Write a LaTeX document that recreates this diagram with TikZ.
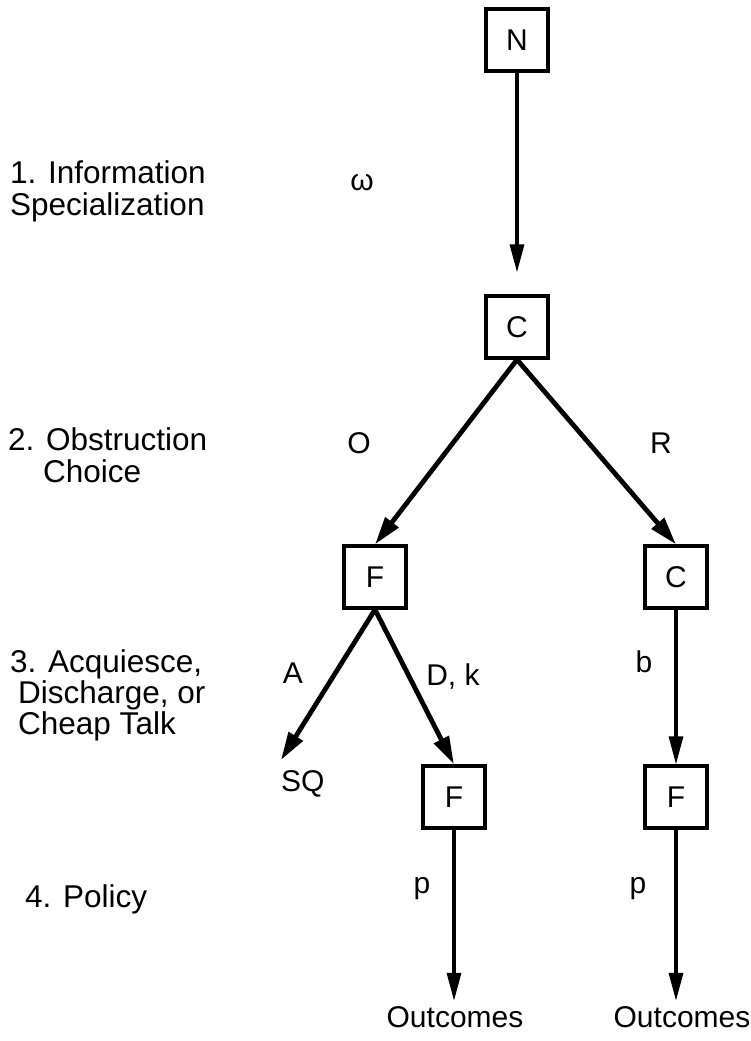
\documentclass[tikz,border=0pt]{standalone}
\usepackage{fontspec}
\setmainfont{Liberation Sans}
\usetikzlibrary{arrows.meta}
\begin{document}
\begin{tikzpicture}[x=1pt,y=-1pt,
  every node/.style={font=\fontsize{30}{32}\selectfont, inner sep=0pt},
  playerbox/.style={draw, line width=3.2pt, minimum width=62pt, minimum height=62pt},
  lbl/.style={anchor=base},
  stage/.style={anchor=base west, font=\fontsize{31.5}{33}\selectfont},
  arr/.style={line width=3.2pt, -{Triangle[length=28pt,width=14pt]}},
  darr/.style={line width=4.8pt, -{Triangle[length=28pt,width=16pt]}}
]
\useasboundingbox (0,0) rectangle (750,1041);
% stage labels
\node[stage] (s1a) at (10,183) {1. Information};
\node[stage] (s1b) at (10,215) {Specialization};
\node[stage] (s2a) at (8,450) {2. Obstruction};
\node[stage] (s2b) at (43,482) {Choice};
\node[stage] (s3a) at (10,672) {3. Acquiesce,};
\node[stage] (s3b) at (18,703) {Discharge, or};
\node[stage] (s3c) at (18,734) {Cheap Talk};
\node[stage] (s4) at (25,907) {4. Policy};
% player boxes
\node[playerbox] (N) at (517,40) {N};
\node[playerbox] (C) at (517,327) {C};
\node[playerbox] (F1) at (375,577) {F};
\node[playerbox] (C2) at (676,577) {C};
\node[playerbox] (F2) at (454,797) {F};
\node[playerbox] (F3) at (676,797) {F};
% terminal texts
\node[anchor=base west] (SQ) at (281,791) {SQ};
\node[lbl] (out1) at (455,1027) {Outcomes};
\node[lbl] (out2) at (682,1027) {Outcomes};
\coordinate (sqtip) at (281,760);
% connectors
\draw[arr] (N.south) -- ([yshift=22pt]C.north);
\draw[darr] (C.south) -- (F1.north);
\draw[darr] (C.south) -- (C2.north);
\draw[darr] (F1.south) -- (sqtip);
\draw[darr] (F1.south) -- (F2.north);
\draw[arr] (C2.south) -- (F3.north);
\draw[arr] (F2.south) -- ([yshift=5pt]F2.south |- out1.north);
\draw[arr] (F3.south) -- ([yshift=5pt]F3.south |- out2.north);
% edge labels
\node[lbl] (lw) at (362,190) {ω};
\node[lbl] (lO) at (359,453) {O};
\node[lbl] (lR) at (661,453) {R};
\node[lbl] (lA) at (293,683) {A};
\node[lbl] (lD) at (453,685) {D, k};
\node[lbl] (lb) at (644,672) {b};
\node[lbl] (lp1) at (422,893) {p};
\node[lbl] (lp2) at (638,893) {p};
\end{tikzpicture}
\end{document}
